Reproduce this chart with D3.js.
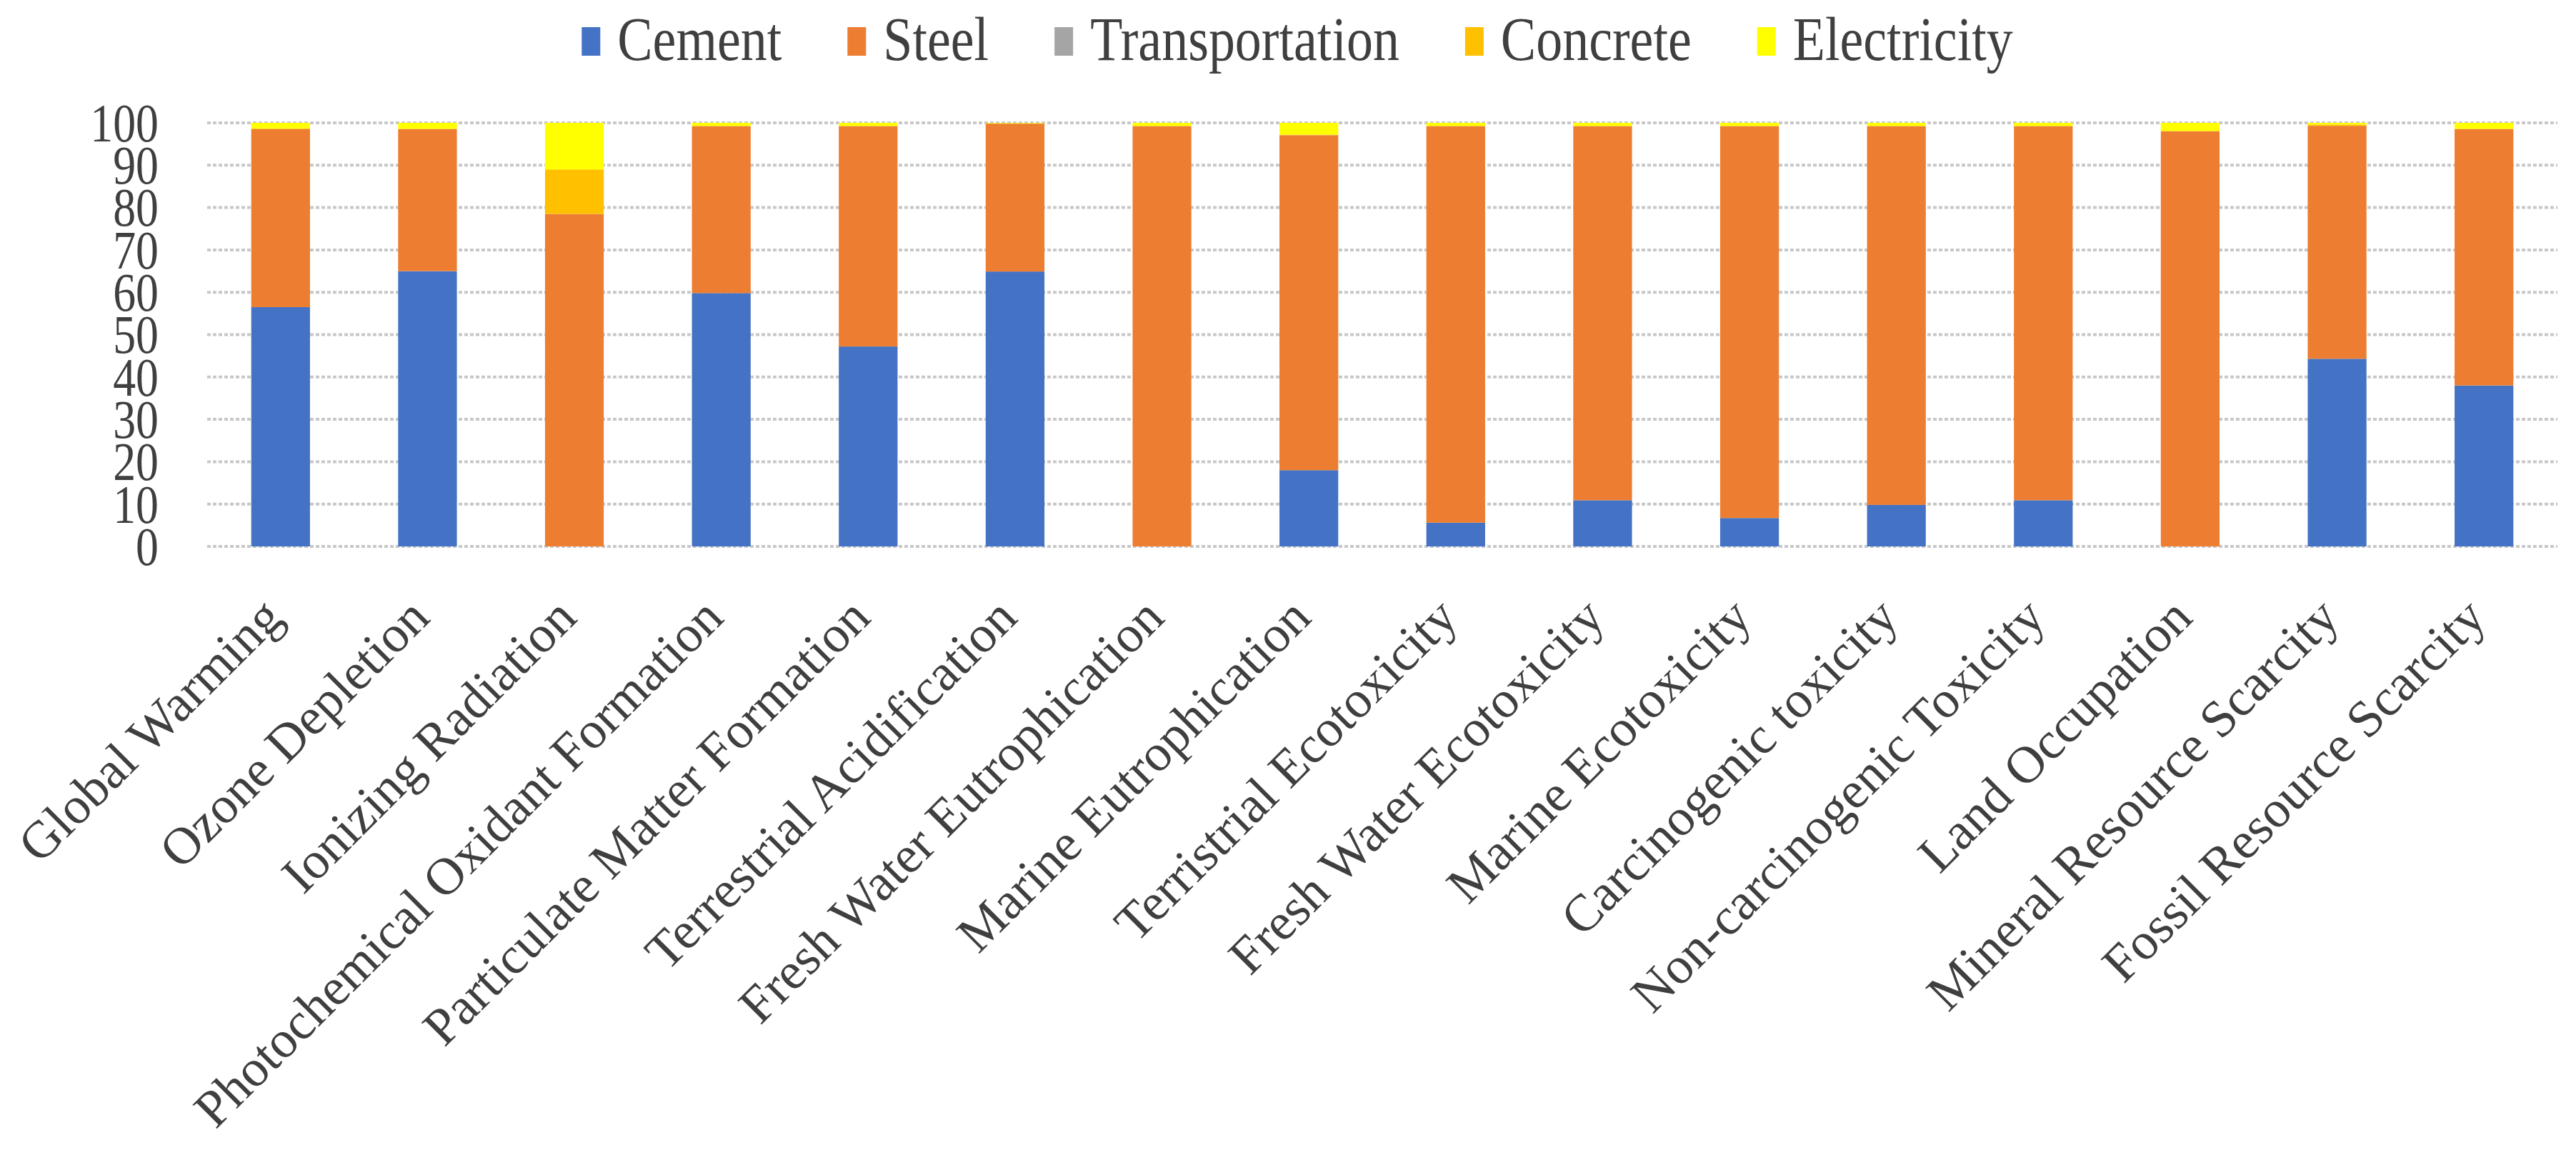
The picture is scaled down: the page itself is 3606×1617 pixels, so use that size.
<!DOCTYPE html>
<html>
<head>
<meta charset="utf-8">
<script src="https://cdn.jsdelivr.net/npm/d3@7"></script>
<style>
    body { margin: 0; background: #fff; }
    svg text { font-family: "Liberation Serif", "Times New Roman", serif; fill: #3f3f3f; }
</style>
</head>
<body>
<div class="graph-bd"></div>
<script>
// categories (impact categories)
let categories = [
    "Global Warming", "Ozone Depletion", "Ionizing Radiation", "Photochemical Oxidant Formation",
    "Particulate Matter Formation", "Terrestrial Acidification", "Fresh Water Eutrophication",
    "Marine Eutrophication", "Terristrial Ecotoxicity", "Fresh Water Ecotoxicity",
    "Marine Ecotoxicity", "Carcinogenic toxicity", "Non-carcinogenic Toxicity",
    "Land Occupation", "Mineral Resource Scarcity", "Fossil Resource Scarcity"
]
let seriesNames = ["Cement", "Steel", "Transportation", "Concrete", "Electricity"]
let seriesColors = ["#4472c4", "#ed7d31", "#a5a5a5", "#ffc000", "#ffff00"]

// values (%)
let cement         = [56.5, 65.0, 0,    59.8, 47.2, 64.9, 0,    18.0, 5.6,  10.9, 6.7,  9.8,  10.9, 0,    44.3, 38.0]
let steel          = [42.0, 33.5, 78.5, 39.4, 52.0, 34.9, 99.2, 79.1, 93.6, 88.3, 92.5, 89.4, 88.3, 98.0, 55.0, 60.5]
let transportation = [0,    0,    0,    0,    0,    0,    0,    0,    0,    0,    0,    0,    0,    0,    0,    0]
let concrete       = [0.2,  0.1,  10.5, 0.1,  0.1,  0.1,  0.1,  0.1,  0.1,  0.1,  0.1,  0.1,  0.1,  0.1,  0.3,  0.1]
let electricity    = [1.3,  1.4,  11.0, 0.7,  0.7,  0.1,  0.7,  2.8,  0.7,  0.7,  0.7,  0.7,  0.7,  1.9,  0.4,  1.4]

let yTicks = [0, 10, 20, 30, 40, 50, 60, 70, 80, 90, 100]

function run() {
    let root = document.querySelector('.graph-bd')
    let w = 3606, h = 1617
    let left = 290, right = 3580, top = 172, bottom = 765

    let svg = d3.select(root).append("svg")
        .attr("width", w)
        .attr("height", h)
    svg.append("rect").attr("width", w).attr("height", h).attr("fill", "#fff")

    // table for the stack
    let table = categories.map(function(c, i) {
        return {
            cat: c,
            Cement: cement[i],
            Steel: steel[i],
            Transportation: transportation[i],
            Concrete: concrete[i],
            Electricity: electricity[i]
        }
    })
    let stacked = d3.stack().keys(seriesNames)(table)

    let xScale = d3.scaleBand()
        .domain(categories)
        .range([left, right])
        .paddingInner(0.6)
        .paddingOuter(0.3)
    let yScale = d3.scaleLinear()
        .domain([0, 100])
        .range([bottom, top])

    // gridlines
    svg.append("g").selectAll("line")
        .data(yTicks)
        .enter()
        .append("line")
        .attr("x1", left)
        .attr("x2", right)
        .attr("y1", function(d) { return yScale(d) })
        .attr("y2", function(d) { return yScale(d) })
        .attr("stroke", "#c8c8c8")
        .attr("stroke-width", 4)
        .attr("stroke-dasharray", "5,3")

    // y tick labels (narrow, like the source)
    svg.append("g").selectAll("text")
        .data(yTicks)
        .enter()
        .append("text")
        .text(function(d) { return d })
        .attr("dy", "0.34em")
        .attr("text-anchor", "end")
        .attr("font-size", "76px")
        .attr("transform", function(d) {
            return "translate(222," + yScale(d) + ") scale(0.84,1)"
        })

    // bars
    svg.append("g").selectAll("g")
        .data(stacked)
        .enter()
        .append("g")
        .attr("fill", function(d, i) { return seriesColors[i] })
        .selectAll("rect")
        .data(function(d) { return d })
        .enter()
        .append("rect")
        .attr("x", function(d) { return xScale(d.data.cat) })
        .attr("y", function(d) { return yScale(d[1]) })
        .attr("width", xScale.bandwidth())
        .attr("height", function(d) { return yScale(d[0]) - yScale(d[1]) })

    // x labels, rotated
    svg.append("g").selectAll("text")
        .data(categories)
        .enter()
        .append("text")
        .text(function(d) { return d })
        .attr("text-anchor", "end")
        .attr("font-size", "73px")
        .attr("transform", function(d) {
            let cx = xScale(d) + xScale.bandwidth() / 2
            return "translate(" + (cx + 6) + "," + 868 + ") rotate(-45)"
        })

    // legend
    let squeeze = 0.86
    let gap = 92
    let legend = svg.append("g")
    let items = legend.selectAll("g")
        .data(seriesNames)
        .enter()
        .append("g")
    items.append("rect")
        .attr("width", 26)
        .attr("height", 40)
        .attr("y", 38)
        .attr("fill", function(d, i) { return seriesColors[i] })
    items.append("text")
        .text(function(d) { return d })
        .attr("font-size", "86px")
        .attr("transform", "translate(50,84) scale(" + squeeze + ",1)")
    let pos = 0, xs = []
    items.each(function(d) {
        xs.push(pos)
        let tw = d3.select(this).select("text").node().getComputedTextLength() * squeeze
        pos += 50 + tw + gap
    })
    let total = pos - gap
    let start = 1816 - total / 2
    items.attr("transform", function(d, i) { return "translate(" + (start + xs[i]) + ",0)" })
}
window.addEventListener('load', run)
</script>
</body>
</html>
